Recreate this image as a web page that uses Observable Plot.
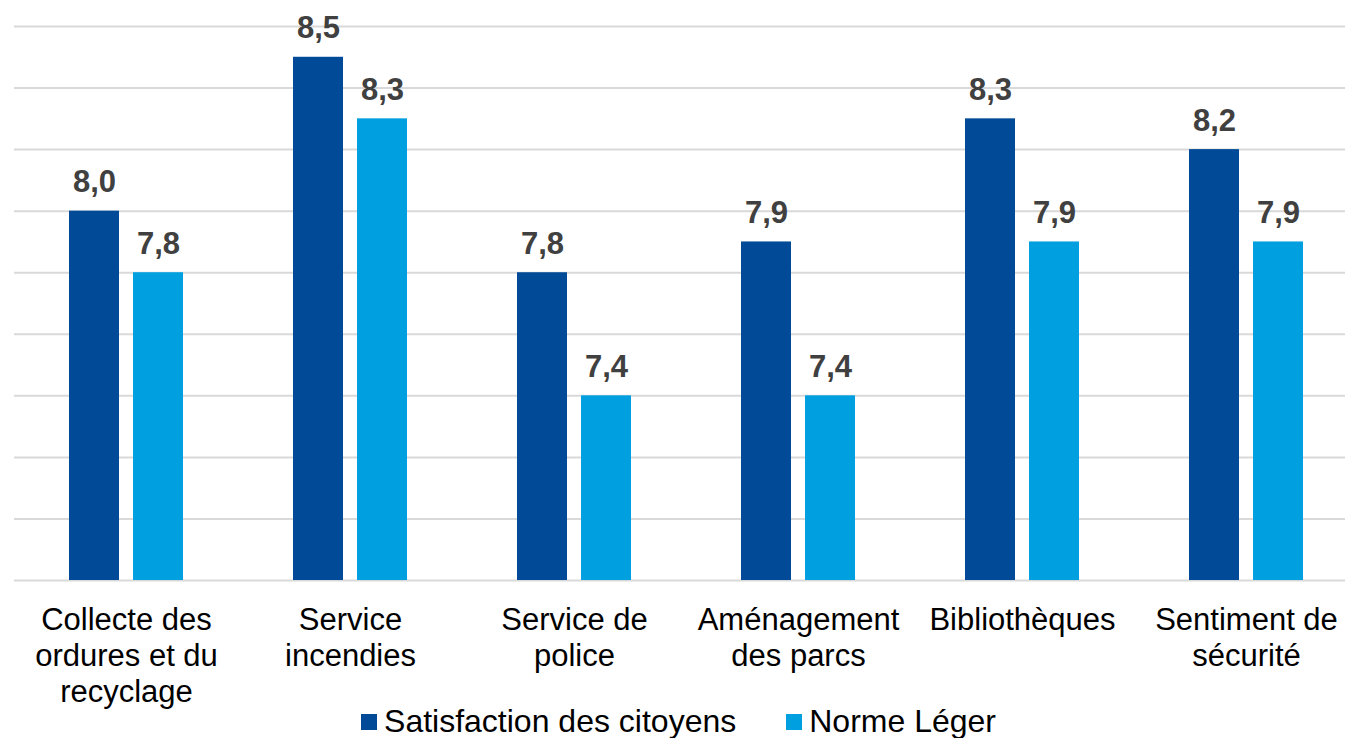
<!DOCTYPE html>
<html>
<head>
<meta charset="utf-8">
<script src="https://cdn.jsdelivr.net/npm/d3@7"></script>
<script src="https://cdn.jsdelivr.net/npm/@observablehq/plot@0.6"></script>
<style>
  html, body { margin: 0; padding: 0; background: #fff; }
  body { width: 1345px; height: 738px; overflow: hidden; font-family: "Liberation Sans", Arial, sans-serif; }
  #chart svg { overflow: visible; display: block; }
  #legend { position: relative; display: flex; justify-content: center; align-items: center; height: 33px; line-height: 33px; font-size: 32px; color: #000; padding-left: 12px; }
  .item { display: flex; align-items: center; }
  .item + .item { margin-left: 50px; }
  .sw { width: 16px; height: 16px; margin-right: 7px; display: inline-block; }
</style>
</head>
<body>
<div id="chart"></div>
<div id="legend"></div>
<script>
const categories = [
  "Collecte des\nordures et du\nrecyclage",
  "Service\nincendies",
  "Service de\npolice",
  "Aménagement\ndes parcs",
  "Bibliothèques",
  "Sentiment de\nsécurité"
];
const seriesNames = ["Satisfaction des citoyens", "Norme Léger"];
const satisfaction = [8.0, 8.5, 7.8, 7.9, 8.3, 8.2];
const normeLeger = [7.8, 8.3, 7.4, 7.4, 7.9, 7.9];
const gridTicks = [6.8, 7.0, 7.2, 7.4, 7.6, 7.8, 8.0, 8.2, 8.4, 8.6];
const yDomain = [6.8, 8.6];
const colors = ["#004A97", "#00A0E0"];

const rows = [];
categories.forEach((c, i) => {
  rows.push({cat: c, series: seriesNames[0], value: satisfaction[i]});
  rows.push({cat: c, series: seriesNames[1], value: normeLeger[i]});
});
const fmt = v => v.toFixed(1).replace(".", ",");

const s0 = rows.filter(d => d.series === seriesNames[0]);
const s1 = rows.filter(d => d.series === seriesNames[1]);

const chart = Plot.plot({
  width: 1345,
  height: 705,
  marginLeft: 14,
  marginRight: 0,
  marginTop: 26,
  marginBottom: 125,
  style: {fontFamily: "'Liberation Sans', Arial, sans-serif", background: "#fff", overflow: "visible"},
  x: {domain: categories, range: [14, 1358], padding: 0},
  y: {domain: yDomain, axis: null},
  marks: [
    Plot.ruleY(gridTicks, {stroke: "#d9d9d9", strokeWidth: 2}),
    Plot.barY(s0, {x: "cat", y1: yDomain[0], y2: "value", fill: colors[0], insetLeft: 55, insetRight: 119}),
    Plot.barY(s1, {x: "cat", y1: yDomain[0], y2: "value", fill: colors[1], insetLeft: 119, insetRight: 55}),
    Plot.text(s0, {x: "cat", y: "value", text: d => fmt(d.value), dx: -32, dy: -19, lineAnchor: "bottom", fontSize: 31, fontWeight: "bold", fill: "#404040"}),
    Plot.text(s1, {x: "cat", y: "value", text: d => fmt(d.value), dx: 32, dy: -19, lineAnchor: "bottom", fontSize: 31, fontWeight: "bold", fill: "#404040"}),
    Plot.axisX({tickSize: 0, tickPadding: 24, fontSize: 31, lineHeight: 1.16, lineAnchor: "top", fill: "#000", label: null})
  ]
});
document.getElementById("chart").appendChild(chart);

const legend = document.getElementById("legend");
seriesNames.forEach((n, i) => {
  const it = document.createElement("div");
  it.className = "item";
  const sw = document.createElement("span");
  sw.className = "sw";
  sw.style.background = colors[i];
  const t = document.createElement("span");
  t.textContent = n;
  it.appendChild(sw);
  it.appendChild(t);
  legend.appendChild(it);
});
</script>
</body>
</html>
